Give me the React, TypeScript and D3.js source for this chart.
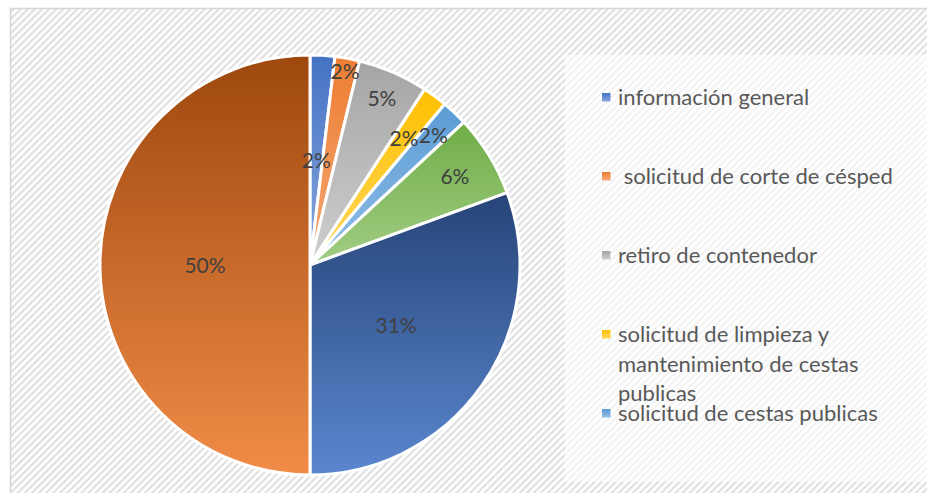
import { useEffect, useRef } from "react";
import * as d3 from "d3";

// categories in pie order (clockwise from 12 o'clock); the legend only has room for the first five
const categories = [
  "información general",
  " solicitud de corte de césped",
  "retiro de contenedor",
  "solicitud de limpieza y mantenimiento de cestas publicas",
  "solicitud de cestas publicas",
  "otros 6",
  "otros 7",
  "otros 8",
];
const values = [1.9, 1.9, 5.4, 1.9, 2.0, 6.3, 30.6, 50.0];
const topColors = ["#4472C4", "#ED7D31", "#A5A5A5", "#FFC000", "#5B9BD5", "#70AD47", "#264478", "#9E480E"];
const bottomColors = ["#8AA8DE", "#F5A877", "#CFCFCF", "#FFD75E", "#92BFE8", "#A2CD85", "#5B87CF", "#F08C47"];

const App = () => {
  const ref = useRef<SVGSVGElement | null>(null);

  useEffect(() => {
    const svg = d3.select(ref.current);
    svg.selectAll("*").remove();

    const width = 927;
    const height = 493;
    const cx = 310;
    const cy = 265;
    const radius = 210;
    const font = "Lato, 'Open Sans', sans-serif";

    const defs = svg.append("defs");

    // diagonal hatch background
    const pat = defs
      .append("pattern")
      .attr("id", "hatch")
      .attr("patternUnits", "userSpaceOnUse")
      .attr("width", 5)
      .attr("height", 5)
      .attr("patternTransform", "rotate(45)");
    pat.append("rect").attr("width", 5).attr("height", 5).attr("fill", "#ffffff");
    pat.append("rect").attr("width", 2.2).attr("height", 5).attr("fill", "#E0E0E0");

    values.forEach((_, i) => {
      const g = defs
        .append("linearGradient")
        .attr("id", `grad${i}`)
        .attr("x1", 0)
        .attr("y1", 0)
        .attr("x2", 0)
        .attr("y2", 1);
      g.append("stop").attr("offset", "0%").attr("stop-color", topColors[i]);
      g.append("stop").attr("offset", "100%").attr("stop-color", bottomColors[i]);
    });

    svg
      .append("rect")
      .attr("x", 10.5)
      .attr("y", 8.5)
      .attr("width", width)
      .attr("height", height)
      .attr("fill", "url(#hatch)")
      .attr("stroke", "#D6D6D6")
      .attr("stroke-width", 1.5);

    // pie
    const pie = d3
      .pie<number>()
      .sort(null)
      .value((d) => d);
    const arcs = pie(values);
    const arc = d3.arc<d3.PieArcDatum<number>>().innerRadius(0).outerRadius(radius);

    const pg = svg.append("g").attr("transform", `translate(${cx},${cy})`);
    pg.selectAll("path")
      .data(arcs)
      .join("path")
      .attr("d", arc)
      .attr("fill", (d, i) => `url(#grad${i})`)
      .attr("stroke", "#ffffff")
      .attr("stroke-width", 3)
      .attr("stroke-linejoin", "round");

    // data labels (best-fit style distances from the centre)
    const labelRadius = [105, 197, 181, 158, 179, 170, 105, 105];
    const total = d3.sum(values);
    const fmt = d3.format(".0%");
    pg.selectAll("text")
      .data(arcs)
      .join("text")
      .attr("x", (d, i) => Math.sin((d.startAngle + d.endAngle) / 2) * labelRadius[i])
      .attr("y", (d, i) => -Math.cos((d.startAngle + d.endAngle) / 2) * labelRadius[i])
      .attr("text-anchor", "middle")
      .attr("dy", "0.36em")
      .attr("font-family", font)
      .attr("font-size", 21)
      .attr("fill", "#404040")
      .text((d) => fmt(d.data / total));

    // legend box (only the entries that fit are shown)
    const box = { x: 565, y: 55, w: 362, h: 427 };
    svg
      .append("rect")
      .attr("x", box.x)
      .attr("y", box.y)
      .attr("width", box.w)
      .attr("height", box.h)
      .attr("fill", "#ffffff")
      .attr("opacity", 0.62);

    const lg = svg.append("g");
    const maxW = 290;
    const lineH = 29.5;
    categories.forEach((name, i) => {
      const yc = 97.5 + 79 * i;
      if (yc + 10 > box.y + box.h) return;
      lg.append("rect")
        .attr("x", 602)
        .attr("y", yc - 4.5)
        .attr("width", 8.5)
        .attr("height", 8.5)
        .attr("fill", `url(#grad${i})`);
      const t = lg
        .append("text")
        .attr("x", 618)
        .attr("y", yc + 7.5)
        .attr("font-family", font)
        .attr("font-size", 22)
        .attr("fill", "#595959")
        .style("white-space", "pre");
      const words = name.split(" ");
      let line = "";
      let ts = t.append("tspan").attr("x", 618).attr("dy", 0);
      words.forEach((w, k) => {
        const test = k === 0 ? w : line + " " + w;
        ts.text(test);
        if ((ts.node() as SVGTSpanElement).getComputedTextLength() > maxW && line.trim() !== "") {
          ts.text(line);
          line = w;
          ts = t.append("tspan").attr("x", 618).attr("dy", lineH).text(w);
        } else {
          line = test;
        }
      });
    });
  }, []);

  return (
    <svg
      ref={ref}
      width={927}
      height={493}
      style={{ position: "absolute", left: 0, top: 0, background: "#fff" }}
    />
  );
};

export default App;
